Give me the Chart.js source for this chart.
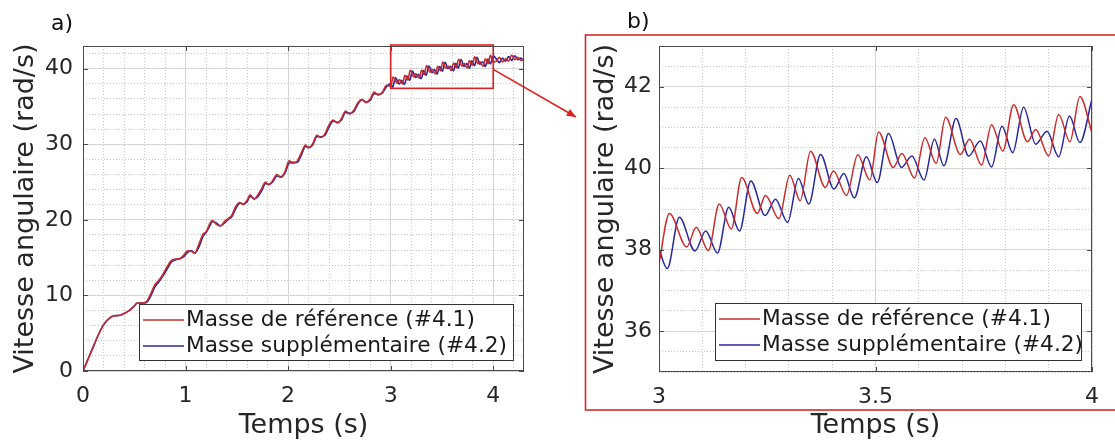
<!DOCTYPE html>
<html>
<head>
<meta charset="utf-8">
<script src="https://cdn.jsdelivr.net/npm/chart.js@4.4.1/dist/chart.umd.min.js"></script>
<style>
    html, body { margin: 0; padding: 0; background: #fff; }
    #wrap { position: relative; width: 1115px; height: 443px; overflow: hidden; }
    #grafA { position: absolute; left: 0; top: 0; }
    #grafB { position: absolute; left: 583px; top: 0; }
    .lbl { position: absolute; font-family: 'DejaVu Sans', sans-serif; font-size: 22px; color: #111; line-height: 26px; }
</style>
</head>
<body>
<div id="wrap">
    <canvas id="grafA" width="585" height="443" style="width:585px;height:443px"></canvas>
    <canvas id="grafB" width="532" height="443" style="width:532px;height:443px"></canvas>
    <div class="lbl" style="left:51px; top:10px;">a)</div>
    <div class="lbl" style="left:627px; top:8px;">b)</div>
</div>
<script>
// Etiquetas y ejes
const labelRef = 'Masse de référence (#4.1)';
const labelSup = 'Masse supplémentaire (#4.2)';
const titleY = 'Vitesse angulaire (rad/s)';
const titleX = 'Temps (s)';

const aXTicks = [0, 1, 2, 3, 4];
const aYTicks = [0, 10, 20, 30, 40];
const bXTicks = [3, 3.5, 4];
const bYTicks = [36, 38, 40, 42];

// Panel a) : 0 a 3 s
const aTime = [0, 0.05, 0.10, 0.15, 0.20, 0.25, 0.30, 0.35, 0.40, 0.45,
    0.50, 0.53, 0.58, 0.62, 0.66, 0.70, 0.74, 0.78, 0.82, 0.86,
    0.90, 0.95, 0.98, 1.02, 1.06, 1.09, 1.13, 1.17, 1.20, 1.24,
    1.26, 1.30, 1.34, 1.38, 1.42, 1.45, 1.49, 1.53, 1.56, 1.60,
    1.63, 1.67, 1.70, 1.74, 1.78, 1.81, 1.85, 1.89, 1.93, 1.97,
    2.01, 2.05, 2.09, 2.13, 2.17, 2.20, 2.24, 2.28, 2.32, 2.36,
    2.40, 2.44, 2.48, 2.52, 2.56, 2.60, 2.64, 2.68, 2.72, 2.76,
    2.80, 2.84, 2.88, 2.92, 2.96];
const aRed = [0, 1.6, 3.2, 4.8, 6.1, 6.9, 7.3, 7.35, 7.6, 8.0,
    8.6, 9.0, 9.0, 9.2, 10.2, 11.4, 12.0, 12.8, 13.8, 14.6,
    14.8, 14.9, 15.3, 15.9, 15.8, 15.6, 16.8, 18.1, 18.4, 19.6,
    19.9, 19.4, 19.2, 19.8, 20.2, 20.6, 21.8, 22.3, 22.0, 22.6,
    23.3, 22.7, 23.2, 24.1, 25.0, 24.6, 25.2, 26.0, 25.6, 26.4,
    27.8, 27.5, 27.8, 28.9, 29.9, 29.5, 30.1, 31.2, 30.9, 31.4,
    32.6, 33.2, 32.8, 33.4, 34.4, 34.0, 34.5, 35.5, 35.9, 35.5,
    36.0, 36.9, 36.5, 36.9, 37.8];
const aBlue = [0, 1.6, 3.2, 4.8, 6.1, 6.9, 7.3, 7.35, 7.6, 8.0,
    8.6, 9.0, 9.0, 9.1, 9.9, 11.1, 11.8, 12.6, 13.5, 14.4,
    14.7, 14.9, 15.1, 15.7, 15.9, 15.6, 16.4, 17.8, 18.3, 19.3,
    19.8, 19.6, 19.2, 19.6, 20.1, 20.4, 21.5, 22.2, 22.1, 22.4,
    23.1, 22.8, 23.0, 23.8, 24.8, 24.7, 25.0, 25.8, 25.7, 26.2,
    27.5, 27.6, 27.6, 28.6, 29.7, 29.6, 29.9, 31.0, 31.0, 31.2,
    32.3, 33.1, 32.9, 33.2, 34.2, 34.1, 34.3, 35.3, 35.9, 35.6,
    35.8, 36.7, 36.6, 36.8, 37.6];

// Zoom 3 a 4 s (se usa en los dos paneles)
const bRedTime = [3.000, 3.024, 3.064, 3.086, 3.114, 3.139, 3.167, 3.191, 3.227, 3.246,
    3.277, 3.302, 3.326, 3.350, 3.384, 3.403, 3.433, 3.459, 3.487, 3.507,
    3.541, 3.561, 3.590, 3.614, 3.640, 3.662, 3.696, 3.717, 3.745, 3.768,
    3.794, 3.819, 3.851, 3.870, 3.900, 3.923, 3.949, 3.972, 4.000];
const bRed = [37.66, 38.89, 38.07, 38.55, 37.98, 39.12, 38.51, 39.77, 38.89, 39.33,
    38.76, 39.83, 39.20, 40.42, 39.53, 39.93, 39.33, 40.33, 39.71, 40.89,
    40.02, 40.36, 39.76, 40.75, 40.12, 41.25, 40.34, 40.71, 40.08, 41.07,
    40.42, 41.56, 40.65, 40.95, 40.30, 41.32, 40.65, 41.76, 40.87];
const bBlueTime = [3.000, 3.019, 3.047, 3.083, 3.108, 3.135, 3.161, 3.186, 3.212, 3.245,
    3.269, 3.297, 3.322, 3.346, 3.373, 3.404, 3.427, 3.451, 3.479, 3.504,
    3.530, 3.560, 3.584, 3.612, 3.636, 3.658, 3.686, 3.715, 3.742, 3.768,
    3.792, 3.817, 3.842, 3.870, 3.896, 3.923, 3.948, 3.972, 4.000];
const bBlue = [38.02, 37.54, 38.80, 37.97, 38.46, 37.92, 39.04, 38.46, 39.69, 38.84,
    39.24, 38.67, 39.75, 39.12, 40.34, 39.49, 39.87, 39.27, 40.28, 39.65,
    40.85, 40.02, 40.30, 39.71, 40.71, 40.06, 41.22, 40.30, 40.67, 40.03,
    41.03, 40.38, 41.50, 40.59, 40.91, 40.28, 41.28, 40.63, 41.70];

// Panel a) : después de 4 s
const tailTime = [4.03, 4.06, 4.09, 4.12, 4.15, 4.18, 4.21, 4.24, 4.27, 4.30];
const tailRed = [41.0, 41.5, 40.9, 41.3, 41.0, 41.8, 41.2, 41.5, 41.1, 41.3];
const tailBlue = [41.3, 40.8, 41.4, 41.0, 41.6, 41.1, 41.7, 41.2, 41.4, 41.0];

// Recuadro del zoom en a)
const zoomBox = { x0: 3, x1: 4, yLow: 37.4 };
const arrowFromY = 39.9;

const RED = '#c92c2c';
const BLUE = '#28289c';
const FONT = "'DejaVu Sans', sans-serif";
const TXT = '#262626';

function pts(ts, vs) {
    return ts.map((t, i) => ({ x: t, y: vs[i] }));
}

function fixedTicks(arr) {
    return function(scale) { scale.ticks = arr.map(v => ({ value: v })); };
}

function mainScales(cfg) {
    return {
        x: {
            type: 'linear', position: 'bottom', min: cfg.xmin, max: cfg.xmax,
            afterBuildTicks: fixedTicks(cfg.xticks),
            afterFit: s => { s.height = cfg.xh; },
            grid: { color: '#dcdcdc', drawTicks: false },
            border: { display: false },
            ticks: { font: { family: FONT, size: 22 }, color: TXT, padding: cfg.xpad, maxRotation: 0, autoSkip: false,
                callback: v => String(v) },
            title: { display: true, text: titleX, font: { family: FONT, size: 27 }, color: TXT, padding: { top: 0, bottom: 1 } }
        },
        xm: {
            type: 'linear', position: 'bottom', min: cfg.xmin, max: cfg.xmax,
            afterFit: s => { s.height = 0; },
            ticks: { display: false, stepSize: cfg.xminor, includeBounds: false },
            grid: { color: '#c8c8c8', drawTicks: false, borderDash: [1, 2] },
            border: { display: false, dash: [1, 2] }
        },
        y: {
            type: 'linear', position: 'left', min: cfg.ymin, max: cfg.ymax,
            afterBuildTicks: fixedTicks(cfg.yticks),
            afterFit: s => { s.width = cfg.yw; },
            grid: { color: '#dcdcdc', drawTicks: false },
            border: { display: false },
            ticks: { font: { family: FONT, size: 22 }, color: TXT, padding: cfg.ypad, callback: v => String(v) },
            title: { display: true, text: titleY, font: { family: FONT, size: 27 }, color: TXT, padding: { top: cfg.ytitle, bottom: 0 } }
        },
        ym: {
            type: 'linear', position: 'left', min: cfg.ymin, max: cfg.ymax,
            afterFit: s => { s.width = 0; },
            ticks: { display: false, stepSize: cfg.yminor, includeBounds: false },
            grid: { color: '#c8c8c8', drawTicks: false, borderDash: [1, 2] },
            border: { display: false, dash: [1, 2] }
        }
    };
}

// marco de ejes, marcas interiores y leyenda
const framePlugin = {
    id: 'marco',
    afterDatasetsDraw(chart, args, opts) {
        const ctx = chart.ctx;
        const a = chart.chartArea;
        const sx = chart.scales.x, sy = chart.scales.y;
        ctx.save();

        if (opts.zoomBox) {
            const zx0 = sx.getPixelForValue(zoomBox.x0), zx1 = sx.getPixelForValue(zoomBox.x1);
            const zy = sy.getPixelForValue(zoomBox.yLow);
            ctx.strokeStyle = '#e0201e';
            ctx.lineWidth = 1.6;
            ctx.strokeRect(zx0, a.top - 1, zx1 - zx0, zy - a.top + 1);
            // flecha hacia el panel b
            const ax = zx1, ay = sy.getPixelForValue(arrowFromY);
            const bx = chart.width - 9, by = 117;
            ctx.beginPath();
            ctx.moveTo(ax, ay);
            ctx.lineTo(bx, by);
            ctx.stroke();
            const ang = Math.atan2(by - ay, bx - ax);
            ctx.fillStyle = '#e0201e';
            ctx.beginPath();
            ctx.moveTo(bx, by);
            ctx.lineTo(bx - 10 * Math.cos(ang - 0.4), by - 10 * Math.sin(ang - 0.4));
            ctx.lineTo(bx - 10 * Math.cos(ang + 0.4), by - 10 * Math.sin(ang + 0.4));
            ctx.closePath();
            ctx.fill();
        }

        // caja de los ejes
        ctx.strokeStyle = '#4a4a4a';
        ctx.lineWidth = 1;
        ctx.strokeRect(a.left + 0.5, a.top + 0.5, a.right - a.left - 1, a.bottom - a.top - 1);
        ctx.beginPath();
        sx.ticks.forEach(t => {
            const p = Math.round(sx.getPixelForValue(t.value)) + 0.5;
            ctx.moveTo(p, a.bottom); ctx.lineTo(p, a.bottom - 5);
            ctx.moveTo(p, a.top); ctx.lineTo(p, a.top + 5);
        });
        sy.ticks.forEach(t => {
            const p = Math.round(sy.getPixelForValue(t.value)) + 0.5;
            ctx.moveTo(a.left, p); ctx.lineTo(a.left + 5, p);
            ctx.moveTo(a.right, p); ctx.lineTo(a.right - 5, p);
        });
        ctx.stroke();

        // leyenda
        const L = opts.legend;
        ctx.fillStyle = '#fff';
        ctx.fillRect(L.x, L.y, L.w, L.h);
        ctx.strokeStyle = '#333';
        ctx.strokeRect(L.x + 0.5, L.y + 0.5, L.w, L.h);
        ctx.font = '21.7px ' + FONT;
        ctx.textBaseline = 'middle';
        ctx.textAlign = 'left';
        chart.data.datasets.forEach((ds, i) => {
            const ry = L.y + (i === 0 ? 16 : 42);
            ctx.strokeStyle = ds.borderColor;
            ctx.lineWidth = 1.3;
            ctx.beginPath();
            ctx.moveTo(L.x + 4, ry); ctx.lineTo(L.x + 45, ry);
            ctx.stroke();
            ctx.fillStyle = '#1a1a1a';
            ctx.fillText(ds.label, L.x + 47, ry);
        });

        if (opts.panelFrame) {
            ctx.strokeStyle = '#d42a2a';
            ctx.lineWidth = 1.6;
            ctx.strokeRect(2.5, 35, chart.width + 20, 375);
        }
        ctx.restore();
    }
};

document.addEventListener('DOMContentLoaded', function() {
    const serieRojaA = pts(aTime, aRed).concat(pts(bRedTime, bRed), pts(tailTime, tailRed));
    const serieAzulA = pts(aTime, aBlue).concat(pts(bBlueTime, bBlue), pts(tailTime, tailBlue));

    const ctxA = document.getElementById('grafA').getContext('2d');
    new Chart(ctxA, {
        type: 'line',
        data: {
            datasets: [
                { label: labelRef, data: serieRojaA, borderColor: RED, borderWidth: 1.6, pointRadius: 0, cubicInterpolationMode: 'monotone', xAxisID: 'x', yAxisID: 'y' },
                { label: labelSup, data: serieAzulA, borderColor: BLUE, borderWidth: 1.6, pointRadius: 0, cubicInterpolationMode: 'monotone', xAxisID: 'x', yAxisID: 'y' }
            ]
        },
        options: {
            responsive: false,
            animation: false,
            layout: { padding: { left: 0, top: 46, right: 61, bottom: 0 } },
            scales: mainScales({ xmin: 0, xmax: 4.3, xticks: aXTicks, xminor: 0.2, xh: 72, xpad: 12,
                ymin: 0, ymax: 43, yticks: aYTicks, yminor: 2, yw: 83, ypad: 10, ytitle: 10 }),
            plugins: {
                legend: { display: false },
                tooltip: { enabled: false },
                marco: { zoomBox: true, legend: { x: 139, y: 304, w: 374, h: 56 } }
            }
        },
        plugins: [framePlugin]
    });

    const ctxB = document.getElementById('grafB').getContext('2d');
    new Chart(ctxB, {
        type: 'line',
        data: {
            datasets: [
                { label: labelRef, data: pts(bRedTime, bRed), borderColor: RED, borderWidth: 1.5, pointRadius: 0, cubicInterpolationMode: 'monotone', xAxisID: 'x', yAxisID: 'y' },
                { label: labelSup, data: pts(bBlueTime, bBlue), borderColor: BLUE, borderWidth: 1.5, pointRadius: 0, cubicInterpolationMode: 'monotone', xAxisID: 'x', yAxisID: 'y' }
            ]
        },
        options: {
            responsive: false,
            animation: false,
            layout: { padding: { left: 0, top: 46, right: 23, bottom: 0 } },
            scales: mainScales({ xmin: 3, xmax: 4, xticks: bXTicks, xminor: 0.1, xh: 71, xpad: 12,
                ymin: 35, ymax: 43, yticks: bYTicks, yminor: 0.5, yw: 76, ypad: 7, ytitle: 7 }),
            plugins: {
                legend: { display: false },
                tooltip: { enabled: false },
                marco: { zoomBox: false, panelFrame: true, legend: { x: 132, y: 303, w: 366, h: 57 } }
            }
        },
        plugins: [framePlugin]
    });
});
</script>
</body>
</html>
